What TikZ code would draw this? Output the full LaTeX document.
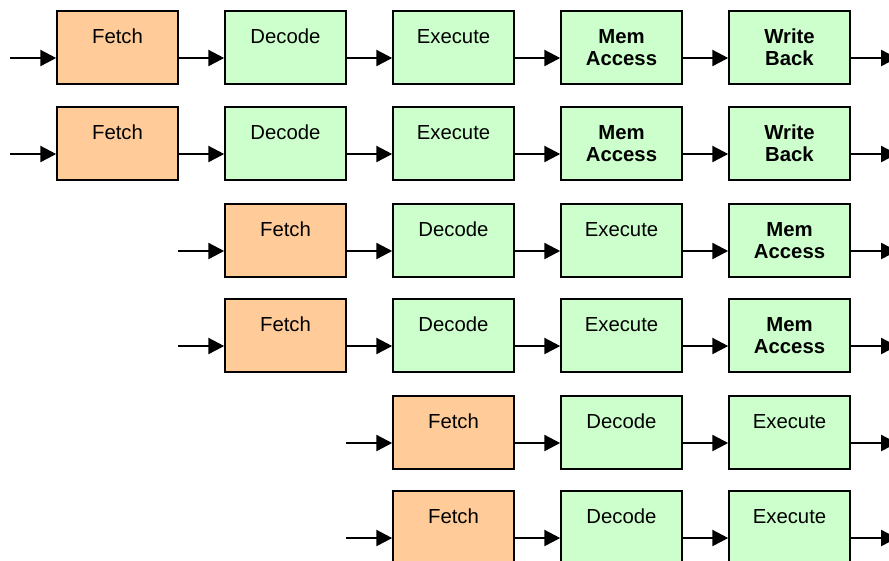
\documentclass[tikz,border=0pt]{standalone}
\usepackage{fontspec}
\setmainfont{Liberation Sans}
\usepackage{xcolor}
\usepackage{tikz}
\usetikzlibrary{
    positioning,
    arrows.meta
}

\definecolor{fetchfill}{HTML}{FFCC99}
\definecolor{stagefill}{HTML}{CCFFCC}

\begin{document}
\begin{tikzpicture}[font=\fontsize{15.3}{16.7}\selectfont,
    sbox/.style={draw, line width=1.2pt, minimum width=3.2cm, minimum height=1.93cm,
                 inner sep=0pt, align=center},
    fbox/.style={sbox, fill=fetchfill},
    gbox/.style={sbox, fill=stagefill},
    arr/.style={-{Triangle[length=12pt,width=12pt]}, line width=1.8pt}]

    \useasboundingbox (0,0) rectangle (23.521,-14.817);

    % === Row 1: full five-stage pipeline ===
    \node[fbox] (F1) at (3.109,-1.257)  {Fetch\\\phantom{X}};
    \node[gbox] (D1) at (7.554,-1.257)  {Decode\\\phantom{X}};
    \node[gbox] (E1) at (11.999,-1.257) {Execute\\\phantom{X}};
    \node[gbox] (M1) at (16.444,-1.257) {\textbf{Mem}\\\textbf{Access}};
    \node[gbox] (W1) at (20.889,-1.257) {\textbf{Write}\\\textbf{Back}};
    \coordinate (in1)  at (0.265,-1.535);
    \coordinate (out1) at (23.733,-1.535);

    \draw[arr] (in1) -- (in1 -| F1.west);
    \draw[arr] (F1.east |- in1) -- (D1.west |- in1);
    \draw[arr] (D1.east |- in1) -- (E1.west |- in1);
    \draw[arr] (E1.east |- in1) -- (M1.west |- in1);
    \draw[arr] (M1.east |- in1) -- (W1.west |- in1);
    \draw[arr] (W1.east |- in1) -- (out1);

    % === Row 2 ===
    \node[fbox] (F2) at (3.109,-3.797)  {Fetch\\\phantom{X}};
    \node[gbox] (D2) at (7.554,-3.797)  {Decode\\\phantom{X}};
    \node[gbox] (E2) at (11.999,-3.797) {Execute\\\phantom{X}};
    \node[gbox] (M2) at (16.444,-3.797) {\textbf{Mem}\\\textbf{Access}};
    \node[gbox] (W2) at (20.889,-3.797) {\textbf{Write}\\\textbf{Back}};
    \coordinate (in2)  at (0.265,-4.075);
    \coordinate (out2) at (23.733,-4.075);

    \draw[arr] (in2) -- (in2 -| F2.west);
    \draw[arr] (F2.east |- in2) -- (D2.west |- in2);
    \draw[arr] (D2.east |- in2) -- (E2.west |- in2);
    \draw[arr] (E2.east |- in2) -- (M2.west |- in2);
    \draw[arr] (M2.east |- in2) -- (W2.west |- in2);
    \draw[arr] (W2.east |- in2) -- (out2);

    % === Row 3: shifted one stage ===
    \node[fbox] (F3) at (7.554,-6.363)  {Fetch\\\phantom{X}};
    \node[gbox] (D3) at (11.999,-6.363) {Decode\\\phantom{X}};
    \node[gbox] (E3) at (16.444,-6.363) {Execute\\\phantom{X}};
    \node[gbox] (M3) at (20.889,-6.363) {\textbf{Mem}\\\textbf{Access}};
    \coordinate (in3)  at (4.710,-6.641);
    \coordinate (out3) at (23.733,-6.641);

    \draw[arr] (in3) -- (in3 -| F3.west);
    \draw[arr] (F3.east |- in3) -- (D3.west |- in3);
    \draw[arr] (D3.east |- in3) -- (E3.west |- in3);
    \draw[arr] (E3.east |- in3) -- (M3.west |- in3);
    \draw[arr] (M3.east |- in3) -- (out3);

    % === Row 4 ===
    \node[fbox] (F4) at (7.554,-8.877)  {Fetch\\\phantom{X}};
    \node[gbox] (D4) at (11.999,-8.877) {Decode\\\phantom{X}};
    \node[gbox] (E4) at (16.444,-8.877) {Execute\\\phantom{X}};
    \node[gbox] (M4) at (20.889,-8.877) {\textbf{Mem}\\\textbf{Access}};
    \coordinate (in4)  at (4.710,-9.155);
    \coordinate (out4) at (23.733,-9.155);

    \draw[arr] (in4) -- (in4 -| F4.west);
    \draw[arr] (F4.east |- in4) -- (D4.west |- in4);
    \draw[arr] (D4.east |- in4) -- (E4.west |- in4);
    \draw[arr] (E4.east |- in4) -- (M4.west |- in4);
    \draw[arr] (M4.east |- in4) -- (out4);

    % === Row 5: shifted two stages ===
    \node[fbox] (F5) at (11.999,-11.443) {Fetch\\\phantom{X}};
    \node[gbox] (D5) at (16.444,-11.443) {Decode\\\phantom{X}};
    \node[gbox] (E5) at (20.889,-11.443) {Execute\\\phantom{X}};
    \coordinate (in5)  at (9.155,-11.721);
    \coordinate (out5) at (23.733,-11.721);

    \draw[arr] (in5) -- (in5 -| F5.west);
    \draw[arr] (F5.east |- in5) -- (D5.west |- in5);
    \draw[arr] (D5.east |- in5) -- (E5.west |- in5);
    \draw[arr] (E5.east |- in5) -- (out5);

    % === Row 6 ===
    \node[fbox] (F6) at (11.999,-13.957) {Fetch\\\phantom{X}};
    \node[gbox] (D6) at (16.444,-13.957) {Decode\\\phantom{X}};
    \node[gbox] (E6) at (20.889,-13.957) {Execute\\\phantom{X}};
    \coordinate (in6)  at (9.155,-14.235);
    \coordinate (out6) at (23.733,-14.235);

    \draw[arr] (in6) -- (in6 -| F6.west);
    \draw[arr] (F6.east |- in6) -- (D6.west |- in6);
    \draw[arr] (D6.east |- in6) -- (E6.west |- in6);
    \draw[arr] (E6.east |- in6) -- (out6);

\end{tikzpicture}
\end{document}
